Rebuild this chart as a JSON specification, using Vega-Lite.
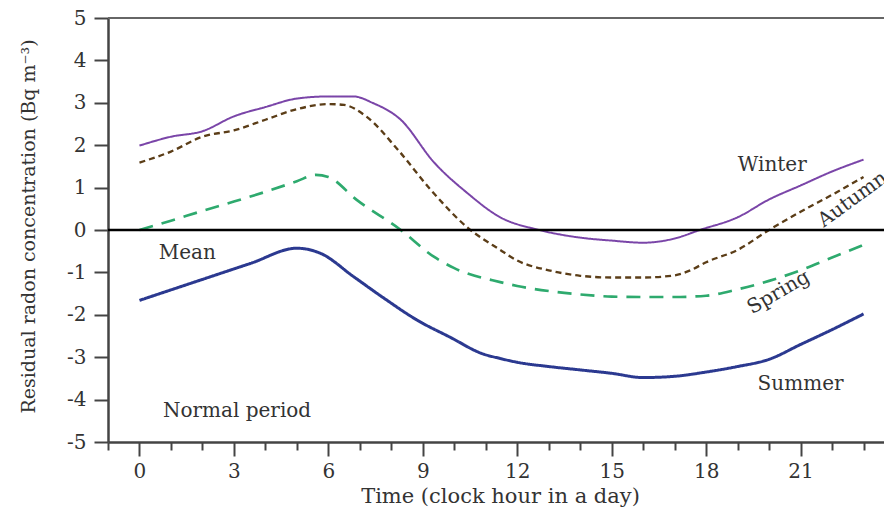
{
  "$schema": "https://vega.github.io/schema/vega-lite/v6.json",
  "width": 776,
  "height": 424,
  "autosize": {"type": "none"},
  "padding": {"left": 108, "top": 18, "right": 0, "bottom": 66},
  "background": "white",
  "config": {
    "view": {"stroke": null},
    "font": "DejaVu Serif",
    "axis": {"grid": false, "labelFont": "DejaVu Serif", "titleFont": "DejaVu Serif", "titleFontWeight": "normal", "labelColor": "#333", "titleColor": "#333"}
  },
  "datasets": {
    "series": [
      {"hour": 0, "value": 1.99, "season": "Winter"},
      {"hour": 1, "value": 2.2, "season": "Winter"},
      {"hour": 2, "value": 2.33, "season": "Winter"},
      {"hour": 3, "value": 2.68, "season": "Winter"},
      {"hour": 4, "value": 2.9, "season": "Winter"},
      {"hour": 5, "value": 3.1, "season": "Winter"},
      {"hour": 6, "value": 3.15, "season": "Winter"},
      {"hour": 6.8, "value": 3.15, "season": "Winter"},
      {"hour": 7.4, "value": 3.0, "season": "Winter"},
      {"hour": 8.3, "value": 2.6, "season": "Winter"},
      {"hour": 9.35, "value": 1.6, "season": "Winter"},
      {"hour": 10.4, "value": 0.88, "season": "Winter"},
      {"hour": 11.46, "value": 0.3, "season": "Winter"},
      {"hour": 12.7, "value": 0.0, "season": "Winter"},
      {"hour": 14, "value": -0.18, "season": "Winter"},
      {"hour": 15, "value": -0.25, "season": "Winter"},
      {"hour": 16, "value": -0.3, "season": "Winter"},
      {"hour": 17, "value": -0.2, "season": "Winter"},
      {"hour": 17.8, "value": 0.0, "season": "Winter"},
      {"hour": 19, "value": 0.3, "season": "Winter"},
      {"hour": 20, "value": 0.72, "season": "Winter"},
      {"hour": 21, "value": 1.05, "season": "Winter"},
      {"hour": 22, "value": 1.38, "season": "Winter"},
      {"hour": 23, "value": 1.66, "season": "Winter"},
      {"hour": 0, "value": 1.59, "season": "Autumn"},
      {"hour": 1, "value": 1.85, "season": "Autumn"},
      {"hour": 2, "value": 2.2, "season": "Autumn"},
      {"hour": 3, "value": 2.35, "season": "Autumn"},
      {"hour": 4, "value": 2.6, "season": "Autumn"},
      {"hour": 5, "value": 2.85, "season": "Autumn"},
      {"hour": 6, "value": 2.97, "season": "Autumn"},
      {"hour": 6.5, "value": 2.95, "season": "Autumn"},
      {"hour": 7.2, "value": 2.68, "season": "Autumn"},
      {"hour": 8.2, "value": 1.9, "season": "Autumn"},
      {"hour": 9.25, "value": 0.95, "season": "Autumn"},
      {"hour": 10.4, "value": 0.07, "season": "Autumn"},
      {"hour": 11.46, "value": -0.47, "season": "Autumn"},
      {"hour": 12, "value": -0.72, "season": "Autumn"},
      {"hour": 13, "value": -0.95, "season": "Autumn"},
      {"hour": 14, "value": -1.08, "season": "Autumn"},
      {"hour": 15, "value": -1.12, "season": "Autumn"},
      {"hour": 16, "value": -1.12, "season": "Autumn"},
      {"hour": 17, "value": -1.07, "season": "Autumn"},
      {"hour": 17.5, "value": -0.95, "season": "Autumn"},
      {"hour": 18, "value": -0.76, "season": "Autumn"},
      {"hour": 19, "value": -0.47, "season": "Autumn"},
      {"hour": 20, "value": 0.0, "season": "Autumn"},
      {"hour": 21, "value": 0.43, "season": "Autumn"},
      {"hour": 22, "value": 0.83, "season": "Autumn"},
      {"hour": 23, "value": 1.25, "season": "Autumn"},
      {"hour": 0, "value": 0.0, "season": "Spring"},
      {"hour": 1, "value": 0.22, "season": "Spring"},
      {"hour": 2, "value": 0.45, "season": "Spring"},
      {"hour": 3, "value": 0.67, "season": "Spring"},
      {"hour": 4, "value": 0.9, "season": "Spring"},
      {"hour": 5, "value": 1.15, "season": "Spring"},
      {"hour": 5.6, "value": 1.3, "season": "Spring"},
      {"hour": 6, "value": 1.25, "season": "Spring"},
      {"hour": 6.9, "value": 0.71, "season": "Spring"},
      {"hour": 8.3, "value": 0.0, "season": "Spring"},
      {"hour": 9.35, "value": -0.63, "season": "Spring"},
      {"hour": 10, "value": -0.9, "season": "Spring"},
      {"hour": 11.46, "value": -1.23, "season": "Spring"},
      {"hour": 12, "value": -1.32, "season": "Spring"},
      {"hour": 13, "value": -1.44, "season": "Spring"},
      {"hour": 14, "value": -1.52, "season": "Spring"},
      {"hour": 15, "value": -1.57, "season": "Spring"},
      {"hour": 16, "value": -1.58, "season": "Spring"},
      {"hour": 17, "value": -1.58, "season": "Spring"},
      {"hour": 18, "value": -1.55, "season": "Spring"},
      {"hour": 19, "value": -1.4, "season": "Spring"},
      {"hour": 20, "value": -1.2, "season": "Spring"},
      {"hour": 21, "value": -0.95, "season": "Spring"},
      {"hour": 22, "value": -0.65, "season": "Spring"},
      {"hour": 23, "value": -0.35, "season": "Spring"},
      {"hour": 0, "value": -1.66, "season": "Summer"},
      {"hour": 1.94, "value": -1.18, "season": "Summer"},
      {"hour": 3.52, "value": -0.79, "season": "Summer"},
      {"hour": 5.0, "value": -0.43, "season": "Summer"},
      {"hour": 5.75, "value": -0.55, "season": "Summer"},
      {"hour": 6.8, "value": -1.1, "season": "Summer"},
      {"hour": 7.75, "value": -1.6, "season": "Summer"},
      {"hour": 8.83, "value": -2.13, "season": "Summer"},
      {"hour": 9.87, "value": -2.53, "season": "Summer"},
      {"hour": 10.9, "value": -2.92, "season": "Summer"},
      {"hour": 11.46, "value": -3.03, "season": "Summer"},
      {"hour": 12, "value": -3.12, "season": "Summer"},
      {"hour": 13, "value": -3.22, "season": "Summer"},
      {"hour": 14, "value": -3.3, "season": "Summer"},
      {"hour": 15, "value": -3.38, "season": "Summer"},
      {"hour": 16, "value": -3.48, "season": "Summer"},
      {"hour": 17, "value": -3.45, "season": "Summer"},
      {"hour": 18, "value": -3.35, "season": "Summer"},
      {"hour": 19, "value": -3.22, "season": "Summer"},
      {"hour": 20, "value": -3.05, "season": "Summer"},
      {"hour": 21, "value": -2.7, "season": "Summer"},
      {"hour": 22, "value": -2.35, "season": "Summer"},
      {"hour": 23, "value": -1.98, "season": "Summer"}
    ],
    "flatLabels": [
      {"label": "Winter", "hour": 20.1, "value": 1.54},
      {"label": "Summer", "hour": 21.0, "value": -3.63},
      {"label": "Mean", "hour": 1.52, "value": -0.55},
      {"label": "Normal period", "hour": 3.1, "value": -4.27}
    ],
    "autumnLabel": [{"label": "Autumn", "hour": 22.65, "value": 0.72}],
    "springLabel": [{"label": "Spring", "hour": 20.3, "value": -1.47}],
    "refs": [{"top": 5, "zero": 0}]
  },
  "resolve": {"axis": {"x": "independent"}},
  "layer": [
    {
      "data": {"name": "series"},
      "mark": {"type": "line", "interpolate": "monotone"},
      "encoding": {
        "x": {
          "field": "hour", "type": "quantitative",
          "scale": {"domain": [-1, 23.65], "nice": false, "zero": false},
          "axis": {
            "orient": "bottom", "values": [0, 3, 6, 9, 12, 15, 18, 21], "format": "d",
            "title": "Time (clock hour in a day)", "titleFontSize": 21, "titleX": 392, "titleY": 60, "titleBaseline": "alphabetic", "titleAnchor": null, "titleAlign": "center",
            "labelFontSize": 20, "labelPadding": 5, "tickSize": 14, "tickWidth": 2, "tickColor": "#444",
            "domainColor": "#444", "domainWidth": 2.5
          }
        },
        "y": {
          "field": "value", "type": "quantitative",
          "scale": {"domain": [-5, 5], "nice": false},
          "axis": {
            "values": [-5, -4, -3, -2, -1, 0, 1, 2, 3, 4, 5], "labelExpr": "'' + datum.value",
            "title": "Residual radon concentration (Bq m⁻³)", "titleFontSize": 19, "titleX": -80, "titleY": 208, "titleAngle": -90, "titleAlign": "center", "titleBaseline": "middle",
            "labelFontSize": 20, "labelPadding": 8, "tickSize": 14, "tickWidth": 2, "tickColor": "#444",
            "domainColor": "#444", "domainWidth": 2.5
          }
        },
        "detail": {"field": "season"},
        "color": {"field": "season", "type": "nominal", "scale": {"domain": ["Winter", "Autumn", "Spring", "Summer"], "range": ["#7a45a8", "#5b3d17", "#2eaa6e", "#2b3990"]}, "legend": null},
        "strokeDash": {"field": "season", "type": "nominal", "scale": {"domain": ["Winter", "Autumn", "Spring", "Summer"], "range": [[1, 0], [6, 4], [14, 9], [1, 0]]}, "legend": null},
        "strokeWidth": {"field": "season", "type": "nominal", "scale": {"domain": ["Winter", "Autumn", "Spring", "Summer"], "range": [2, 3, 3, 4.5]}, "legend": null}
      }
    },
    {
      "data": {"name": "refs"},
      "mark": {"type": "rule", "color": "#666", "strokeWidth": 2},
      "encoding": {"y": {"field": "top", "type": "quantitative"}}
    },
    {
      "data": {"name": "refs"},
      "mark": {"type": "rule", "color": "#000", "strokeWidth": 2.5},
      "encoding": {"y": {"field": "zero", "type": "quantitative"}}
    },
    {
      "data": {"name": "flatLabels"},
      "mark": {"type": "text", "fontSize": 20, "color": "#333", "font": "DejaVu Serif"},
      "encoding": {
        "x": {
          "field": "hour", "type": "quantitative",
          "scale": {"domain": [-1, 23.65], "nice": false, "zero": false},
          "axis": {"orient": "bottom", "values": [-1, 1, 2, 4, 5, 7, 8, 10, 11, 13, 14, 16, 17, 19, 20, 22, 23], "labels": false, "title": null, "domain": false, "tickSize": 8, "tickWidth": 2, "tickColor": "#444"}
        },
        "y": {"field": "value", "type": "quantitative"},
        "text": {"field": "label"}
      }
    },
    {
      "data": {"name": "autumnLabel"},
      "mark": {"type": "text", "fontSize": 20, "color": "#333", "font": "DejaVu Serif", "angle": -36},
      "encoding": {
        "x": {"field": "hour", "type": "quantitative", "axis": null},
        "y": {"field": "value", "type": "quantitative"},
        "text": {"field": "label"}
      }
    },
    {
      "data": {"name": "springLabel"},
      "mark": {"type": "text", "fontSize": 20, "color": "#333", "font": "DejaVu Serif", "angle": -30},
      "encoding": {
        "x": {"field": "hour", "type": "quantitative", "axis": null},
        "y": {"field": "value", "type": "quantitative"},
        "text": {"field": "label"}
      }
    }
  ]
}
